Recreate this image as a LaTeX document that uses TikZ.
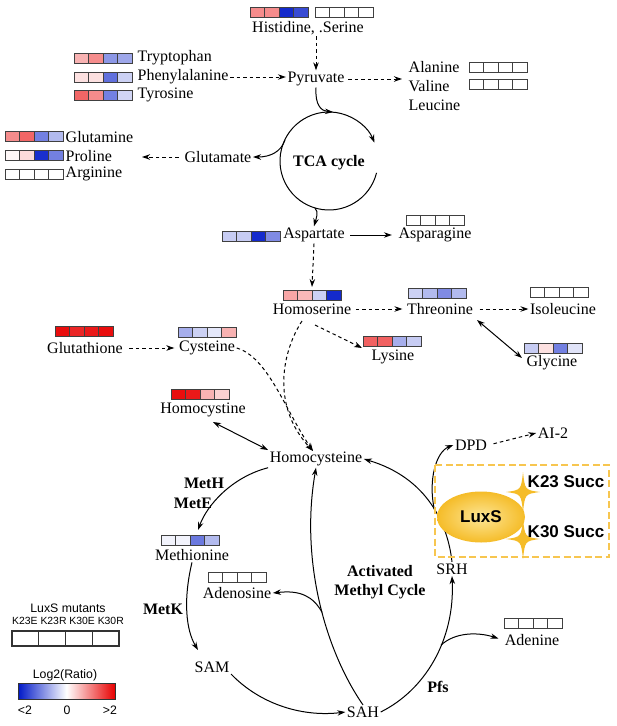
\documentclass[tikz,border=0pt]{standalone}
\usepackage{fontspec}
\setmainfont{Liberation Serif}
\setsansfont{Liberation Sans}
\usetikzlibrary{arrows.meta,shapes.geometric,calc}
\definecolor{hR}{RGB}{232,0,0}
\definecolor{hB}{RGB}{0,24,200}
\definecolor{gold}{RGB}{245,188,40}
\definecolor{goldlt}{RGB}{253,230,150}
\definecolor{dashgold}{RGB}{247,198,80}
\newcommand{\hmap}[6]{%
  \draw[hcell,fill=#3] (#1,#2) rectangle ++(14.5,10.5);
  \draw[hcell,fill=#4] (#1+14.5,#2) rectangle ++(14.5,10.5);
  \draw[hcell,fill=#5] (#1+29,#2) rectangle ++(14.5,10.5);
  \draw[hcell,fill=#6] (#1+43.5,#2) rectangle ++(14.5,10.5);}
\newcommand{\sparkle}[2]{%
  \begin{scope}[shift={(#1,#2)}]
  \fill[gold] (0,-20) .. controls (2,-2) .. (17,0) .. controls (2,2) .. (0,20)
     .. controls (-2,2) .. (-17,0) .. controls (-2,-2) .. (0,-20) -- cycle;
  \end{scope}}
\tikzset{
  hcell/.style={draw=black!75,line width=0.9pt},
  lbl/.style={font=\fontsize{16}{18}\selectfont,inner sep=1.5pt},
  blbl/.style={font=\fontsize{16}{19}\selectfont\bfseries,inner sep=1.5pt},
  sfb/.style={font=\fontsize{17}{20}\selectfont\sffamily\bfseries,inner sep=1pt},
  lsans/.style={font=\fontsize{12.3}{14}\selectfont\sffamily,inner sep=1pt},
  arr/.style={-{Stealth[length=8pt,width=5.5pt]},line width=1pt},
  darr/.style={arr,dash pattern=on 3.5pt off 3pt},
  dbl/.style={{Stealth[length=8pt,width=5.5pt]}-{Stealth[length=8pt,width=5.5pt]},line width=1pt}
}
\begin{document}
\begin{tikzpicture}[x=1pt,y=-1pt]
\useasboundingbox (0,0) rectangle (617,726);

% ---------- heatmaps ----------
\hmap{250}{7}{hR!45!white}{hR!45!white}{hB!92!white}{hB!78!white}
\hmap{315}{7}{white}{white}{white}{white}
\hmap{74}{53}{hR!30!white}{hR!45!white}{hB!45!white}{hB!38!white}
\hmap{74}{72}{hR!12!white}{hR!12!white}{hB!62!white}{hB!20!white}
\hmap{74}{90}{hR!60!white}{hR!45!white}{hB!55!white}{hB!18!white}
\hmap{469}{62}{white}{white}{white}{white}
\hmap{469}{79}{white}{white}{white}{white}
\hmap{5}{131}{hR!45!white}{hR!60!white}{hB!55!white}{hB!30!white}
\hmap{5}{150}{hR!3!white}{hR!14!white}{hB!90!white}{hB!55!white}
\hmap{5}{169}{white}{white}{white}{white}
\hmap{222}{231}{hB!22!white}{hB!22!white}{hB!92!white}{hB!50!white}
\hmap{406}{215}{white}{white}{white}{white}
\hmap{283}{290}{hR!35!white}{hR!28!white}{hB!20!white}{hB!92!white}
\hmap{408}{288}{hB!20!white}{hB!30!white}{hB!50!white}{hB!30!white}
\hmap{530}{287}{white}{white}{white}{white}
\hmap{524}{343}{hB!22!white}{hR!12!white}{hB!55!white}{hB!12!white}
\hmap{363}{336}{hR!62!white}{hR!62!white}{hB!35!white}{hB!22!white}
\hmap{55}{326}{hR!95!white}{hR!85!white}{hR!90!white}{hR!95!white}
\hmap{178}{327}{hB!35!white}{hB!20!white}{hB!10!white}{hR!30!white}
\hmap{171}{389}{hR!95!white}{hR!90!white}{hR!30!white}{hR!18!white}
\hmap{161}{535}{hB!5!white}{hB!5!white}{hB!58!white}{hB!30!white}
\hmap{208}{572}{white}{white}{white}{white}
\hmap{504}{618}{white}{white}{white}{white}

% ---------- labels ----------
\node[lbl] (his) at (308,28) {Histidine, .Serine};
\node[lbl] (pyr) at (316,79) {Pyruvate};
\node[lbl,anchor=west] (trp) at (136,58) {Tryptophan};
\node[lbl,anchor=west] (phe) at (136,77) {Phenylalanine};
\node[lbl,anchor=west] (tyr) at (136,95) {Tyrosine};
\node[lbl,anchor=west] (ala) at (407,67) {Alanine};
\node[lbl,anchor=west] (val) at (407,86) {Valine};
\node[lbl,anchor=west] (leu) at (407,105) {Leucine};
\node[blbl] (tca) at (329,163) {TCA cycle};
\node[lbl] (glu) at (218,157) {Glutamate};
\node[lbl,anchor=west] (gln) at (64,137) {Glutamine};
\node[lbl,anchor=west] (pro) at (64,156) {Proline};
\node[lbl,anchor=west] (arg) at (64,174) {Arginine};
\node[lbl] (asp) at (314,235) {Aspartate};
\node[lbl] (asn) at (435,235) {Asparagine};
\node[lbl] (hse) at (312,309) {Homoserine};
\node[lbl] (thr) at (440,309) {Threonine};
\node[lbl] (ile) at (563,309) {Isoleucine};
\node[lbl] (gly) at (552,363) {Glycine};
\node[lbl] (lys) at (393,357) {Lysine};
\node[lbl] (gsh) at (85,348) {Glutathione};
\node[lbl] (cys) at (207,348) {Cysteine};
\node[lbl] (hcs) at (203,410) {Homocystine};
\node[lbl] (hcy) at (316,459) {Homocysteine};
\node[lbl] (met) at (192,555) {Methionine};
\node[lbl] (sam) at (212,667) {SAM};
\node[lbl] (sah) at (363,712) {SAH};
\node[lbl] (ado) at (237,593) {Adenosine};
\node[lbl] (ade) at (532,640) {Adenine};
\node[lbl] (srh) at (452,569) {SRH};
\node[lbl] (dpd) at (471,445) {DPD};
\node[lbl] (ai2) at (553,433) {AI-2};
\node[blbl] (meth) at (204,483) {MetH};
\node[blbl] (mete) at (193,503) {MetE};
\node[blbl] (metk) at (163,609) {MetK};
\node[blbl] (pfs) at (438,687) {Pfs};
\node[blbl,align=center] (amc) at (380,582) {Activated\\Methyl Cycle};

% ---------- coordinates ----------
\coordinate (tcac) at (329,161);
\coordinate (tcatop) at (333,112);
\coordinate (tcaL) at (285,140);
\coordinate (tcaB) at (315,208);
\coordinate (proT) at (142,157);
\coordinate (hseT) at (312,287);
\coordinate (lysT) at (362,348);
\coordinate (hseL) at (302,321);
\coordinate (hseR) at (315,325);
\coordinate (hcyT) at (313,451);
\coordinate (thrG) at (477,320);
\coordinate (glyT) at (522,358);
\coordinate (hcsB) at (213,422);
\coordinate (hcyL) at (268,450);

% ---------- TCA cycle ----------
\draw[arr] (tcac) ++(14:49) arc[start angle=14,end angle=338,radius=49];
\draw[arr] (pyr.south) .. controls (315,105) and (321,111) .. (tcatop);
\draw[arr] (tcaL) .. controls (281,152) and (270,157) .. (glu.east);
\draw[arr] (tcaB) .. controls (319,212) and (316,219) .. (asp.north);

% ---------- amino acid links ----------
\draw[darr] (pyr.north |- his.south) -- (pyr.north);
\draw[darr] (phe.east) -- (phe.east -| pyr.west);
\draw[darr,shorten <=2pt] (pyr.east) -- ([xshift=-5pt]pyr.east -| val.west);
\draw[darr,shorten <=4pt] (glu.west) -- (proT);
\draw[arr,shorten <=4pt,shorten >=5pt] (asp.east) -- (asn.west);
\draw[darr] (asp.south) -- (hseT);
\draw[darr,shorten <=3pt,shorten >=3pt] (hse.east) -- (thr.west);
\draw[darr,shorten <=5pt] (thr.east) -- (ile.west);
\draw[dbl] (thrG) -- (glyT);
\draw[darr] (hseR) -- (lysT);
\draw[darr,shorten <=5pt,shorten >=3pt] (gsh.east) -- (cys.west);
\draw[darr] (hseL) .. controls (283,350) and (270,405) .. (hcyT);
\draw[darr] (cys.east) .. controls (268,357) and (285,410) .. (hcyT);
\draw[dbl] (hcsB) -- (hcyL);

% ---------- activated methyl cycle ----------
\draw[arr] (hcy.south west) .. controls (232,477) and (207,505) .. (198,530);
\draw[arr] (met.south) .. controls (183,600) and (186,630) .. (198,650);
\draw[arr] (sam.south east) .. controls (262,706) and (305,717) .. (sah.west);
\draw[arr] (sah.north) .. controls (325,650) and (300,560) .. (hcy.south) coordinate[pos=0.45] (brA);
\draw[arr] (brA) .. controls (313,596) and (300,590) .. (ado.east);
\draw[arr] (sah.east) .. controls (425,690) and (455,640) .. (srh.south) coordinate[pos=0.6] (brB);
\draw[arr,shorten >=5pt] (brB) .. controls (455,632) and (478,632) .. (ade.west);
\draw[arr] (srh.north) .. controls (448,525) and (428,478) .. (hcy.east) coordinate[pos=0.45] (brC);
\draw[arr] (brC) .. controls (428,480) and (436,452) .. (dpd.west);
\draw[darr,shorten <=5pt] (dpd.east) -- (ai2.west);

% ---------- LuxS ----------
\draw[dashgold,line width=2pt,dash pattern=on 7pt off 3.5pt] (435,465) rectangle (609,557);
\node[ellipse,minimum width=88pt,minimum height=51pt,inner sep=0pt,
      inner color=goldlt,outer color=gold,font=\fontsize{17}{20}\selectfont\sffamily\bfseries] (luxs) at (481,517) {LuxS};
\sparkle{523}{492}
\sparkle{523}{539}
\node[sfb] (k23) at (566,482) {K23 Succ};
\node[sfb] (k30) at (566,532) {K30 Succ};

% ---------- legend ----------
\node[lsans] (lmut) at (68,608) {LuxS mutants};
\node[font=\fontsize{10.4}{12}\selectfont\sffamily,inner sep=1pt] (lk) at (68,621) {K23E K23R K30E K30R};
\foreach \i in {0,1,2,3} {\draw[black!80,line width=1.1pt] (12+\i*26.75,631) rectangle ++(26.75,15);}
\node[lsans] (lg) at (65,675) {Log2(Ratio)};
\draw[black!80,line width=0.9pt,left color=hB,right color=hR,middle color=white] (18,683) rectangle (115,699);
\node[lsans] (lmin) at (25,710) {<2};
\node[lsans] (lzero) at (67,710) {0};
\node[lsans] (lmax) at (110,710) {>2};
\end{tikzpicture}
\end{document}
